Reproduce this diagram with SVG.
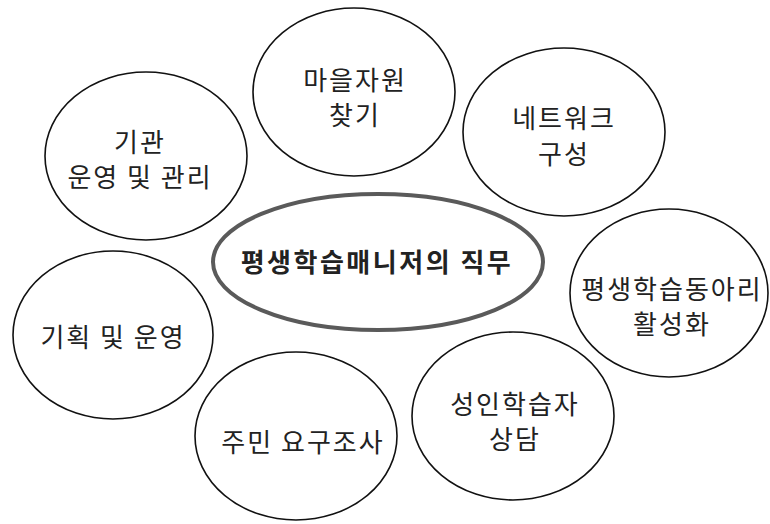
<svg xmlns="http://www.w3.org/2000/svg" width="770" height="524" viewBox="0 0 770 524">
<style>
.n{fill:#fff;stroke:#111;stroke-width:1.6}
.t{font-family:"Noto Sans CJK KR","Noto Sans",sans-serif;font-size:26px;fill:#222;text-anchor:middle;letter-spacing:2px}
.c{fill:#fff;stroke:#5a5a5a;stroke-width:4}
.ct{font-family:"Noto Sans CJK KR","Noto Sans",sans-serif;font-size:26px;font-weight:bold;fill:#222;text-anchor:middle;letter-spacing:2.5px}
</style>
<rect width="770" height="524" fill="#fff"/>
<g id="connectors"></g>
<g id="n-gigwan">
<ellipse class="n" cx="146" cy="156" rx="101" ry="84"/>
<text class="t" x="140" y="152">기관</text>
<text class="t" x="140" y="187">운영 및 관리</text>
</g>
<g id="n-maeul">
<ellipse class="n" cx="354" cy="92" rx="101" ry="84"/>
<text class="t" x="355" y="90">마을자원</text>
<text class="t" x="355" y="125">찾기</text>
</g>
<g id="n-network">
<ellipse class="n" cx="564" cy="132" rx="101" ry="84"/>
<text class="t" x="564" y="128">네트워크</text>
<text class="t" x="564" y="164">구성</text>
</g>
<g id="n-club">
<ellipse class="n" cx="669" cy="293" rx="99" ry="84"/>
<text class="t" x="672" y="299">평생학습동아리</text>
<text class="t" x="672" y="334">활성화</text>
</g>
<g id="n-counsel">
<ellipse class="n" cx="513" cy="416" rx="101" ry="84"/>
<text class="t" x="515" y="414">성인학습자</text>
<text class="t" x="515" y="449">상담</text>
</g>
<g id="n-survey">
<ellipse class="n" cx="296" cy="436" rx="101" ry="84"/>
<text class="t" x="303" y="452">주민 요구조사</text>
</g>
<g id="n-plan">
<ellipse class="n" cx="113" cy="335" rx="100" ry="84"/>
<text class="t" x="113" y="347">기획 및 운영</text>
</g>
<g id="n-center">
<ellipse class="c" cx="378" cy="262" rx="165" ry="68"/>
<text class="ct" x="377" y="272">평생학습매니저의 직무</text>
</g>
</svg>
